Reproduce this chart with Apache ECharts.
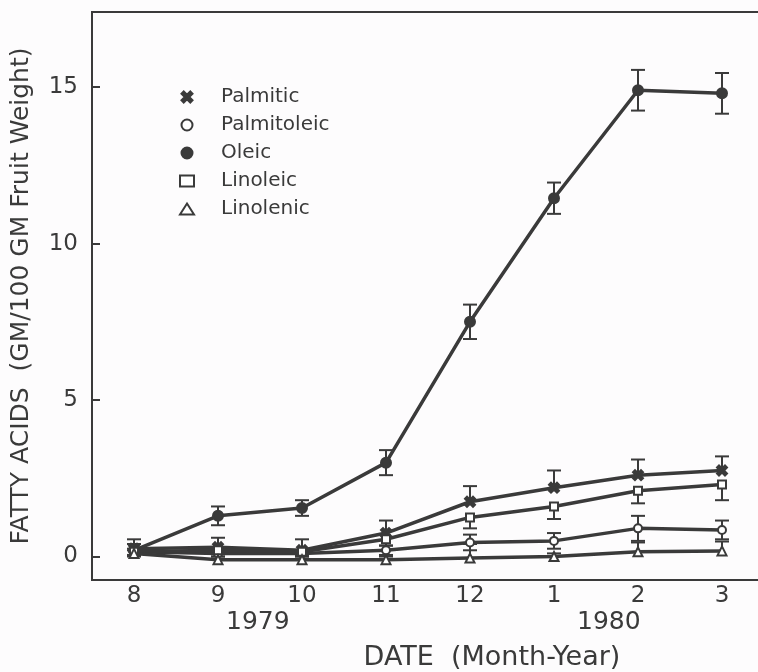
<!DOCTYPE html>
<html>
<head>
<meta charset="utf-8">
<script src="https://cdn.jsdelivr.net/npm/echarts@6/dist/echarts.min.js"></script>
<style>
    html, body { margin: 0; padding: 0; background: #fdfcfd; }
    #chart { width: 758px; height: 672px; }
</style>
</head>
<body>
<div id="chart"></div>
<script>
var months = ['8', '9', '10', '11', '12', '1', '2', '3'];
var yTicks = [0, 5, 10, 15];
var yearLabels = ['1979', '1980'];

var palmitic    = [0.25, 0.3, 0.2, 0.75, 1.75, 2.2, 2.6, 2.75];
var palmitoleic = [0.15, 0.1, 0.1, 0.2, 0.45, 0.5, 0.9, 0.85];
var oleic       = [0.2, 1.3, 1.55, 3.0, 7.5, 11.45, 14.9, 14.8];
var linoleic    = [0.15, 0.2, 0.15, 0.55, 1.25, 1.6, 2.1, 2.3];
var linolenic   = [0.1, -0.1, -0.1, -0.1, -0.05, 0.0, 0.15, 0.18];

var palmiticErr    = [0.3, 0.3, 0.35, 0.4, 0.5, 0.55, 0.5, 0.45];
var palmitoleicErr = [0.1, 0.1, 0.1, 0.15, 0.25, 0.25, 0.4, 0.3];
var oleicErr       = [0.2, 0.3, 0.25, 0.4, 0.55, 0.5, 0.65, 0.65];
var linoleicErr    = [0.1, 0.1, 0.1, 0.2, 0.35, 0.4, 0.4, 0.5];
var linolenicErr   = [0.1, 0.1, 0.1, 0.1, 0.45, 0.1, 0.3, 0.3];

var ink = '#3a3a3a'
var font = 'DejaVu Sans'
var xPath = 'path://M0,2L2,0L5,3L8,0L10,2L7,5L10,8L8,10L5,7L2,10L0,8L3,5Z'

var lines = [
    { name: 'Palmitic', data: palmitic, err: palmiticErr, symbol: xPath, size: 10, dir: 'up' },
    { name: 'Palmitoleic', data: palmitoleic, err: palmitoleicErr, symbol: 'emptyCircle', size: 8, dir: 'both' },
    { name: 'Oleic', data: oleic, err: oleicErr, symbol: 'circle', size: 10, dir: 'both' },
    { name: 'Linoleic', data: linoleic, err: linoleicErr, symbol: 'emptyRect', size: 8, dir: 'down' },
    { name: 'Linolenic', data: linolenic, err: linolenicErr, symbol: 'emptyTriangle', size: 9, dir: 'up' }
]

var seriesData = []
var legendList = []
lines.map(function (item) {
    legendList.push({ name: item.name, icon: item.symbol })
    seriesData.push({
        name: item.name,
        type: 'line',
        data: item.data,
        symbol: item.symbol,
        symbolSize: item.size,
        showAllSymbol: true,
        z: 3,
        lineStyle: { color: ink, width: 3.5 },
        itemStyle: { color: ink, borderColor: ink, borderWidth: 2 }
    })
    var errData = item.data.map(function (v, i) { return [i, v, item.err[i]] })
    seriesData.push({
        name: item.name,
        type: 'custom',
        data: errData,
        z: 2,
        silent: true,
        renderItem: function (params, api) {
            var x = api.value(0), v = api.value(1), e = api.value(2)
            var mid = api.coord([x, v])
            var top = api.coord([x, v + (item.dir === 'down' ? 0 : e)])
            var bot = api.coord([x, v - (item.dir === 'up' ? 0 : e)])
            var style = { stroke: ink, lineWidth: 2 }
            var kids = [{ type: 'line', shape: { x1: mid[0], y1: top[1], x2: mid[0], y2: bot[1] }, style: style }]
            if (item.dir !== 'down') kids.push({ type: 'line', shape: { x1: mid[0] - 7, y1: top[1], x2: mid[0] + 7, y2: top[1] }, style: style })
            if (item.dir !== 'up') kids.push({ type: 'line', shape: { x1: mid[0] - 7, y1: bot[1], x2: mid[0] + 7, y2: bot[1] }, style: style })
            return { type: 'group', children: kids }
        }
    })
})

var myChart = echarts.init(document.getElementById('chart'))
var option = {
    backgroundColor: '#fdfcfd',
    animation: false,
    legend: {
        data: legendList,
        orient: 'vertical',
        left: 174,
        top: 82,
        itemGap: 8,
        itemWidth: 14,
        itemHeight: 11,
        textStyle: { color: ink, fontSize: 20, fontFamily: font, padding: [0, 0, 0, 22] }
    },
    grid: {
        left: 92,
        right: -6,
        top: 12,
        bottom: 92,
        outerBoundsMode: 'none',
        show: true,
        borderColor: ink,
        borderWidth: 2,
        backgroundColor: 'transparent'
    },
    xAxis: {
        type: 'category',
        data: months,
        boundaryGap: true,
        name: 'DATE  (Month-Year)',
        nameLocation: 'middle',
        nameGap: 64,
        nameTextStyle: { color: ink, fontSize: 27, fontFamily: font, padding: [0, 0, 0, 128] },
        axisLine: { onZero: false, lineStyle: { color: ink, width: 2 } },
        axisTick: { inside: true, alignWithLabel: true, length: 13, lineStyle: { color: ink, width: 2 } },
        axisLabel: { color: ink, fontSize: 23, fontFamily: font, margin: 5 },
        splitLine: { show: false }
    },
    yAxis: {
        type: 'value',
        min: -0.75,
        max: 17.4,
        name: 'FATTY ACIDS  (GM/100 GM Fruit Weight)',
        nameLocation: 'middle',
        nameGap: 58,
        nameTextStyle: { color: ink, fontSize: 25, fontFamily: font },
        axisLine: { show: true, lineStyle: { color: ink, width: 2 } },
        axisTick: { show: true, inside: true, length: 8, customValues: yTicks, lineStyle: { color: ink, width: 2 } },
        axisLabel: { color: ink, fontSize: 23, fontFamily: font, margin: 14, customValues: yTicks },
        splitLine: { show: false }
    },
    graphic: [
        { type: 'text', left: 226, top: 610, style: { text: yearLabels[0], fill: ink, font: '25px "DejaVu Sans"' } },
        { type: 'text', left: 577, top: 610, style: { text: yearLabels[1], fill: ink, font: '25px "DejaVu Sans"' } }
    ],
    series: seriesData
}
myChart.setOption(option)
</script>
</body>
</html>
